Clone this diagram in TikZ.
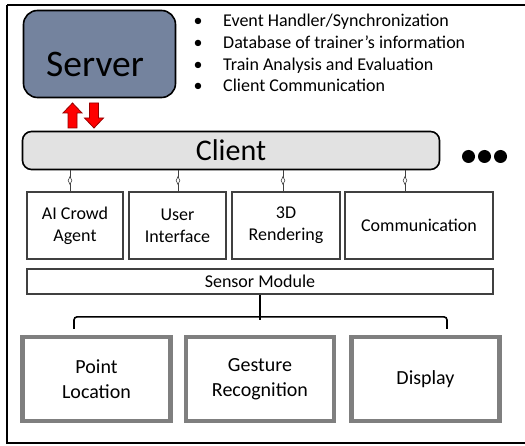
\documentclass[tikz,border=0pt]{standalone}
\usepackage{fontspec}
\setmainfont{Carlito}
\usetikzlibrary{shapes.geometric,calc}
\definecolor{serverblue}{RGB}{116,131,158}
\definecolor{clientgray}{RGB}{226,226,226}
\definecolor{modborder}{RGB}{64,64,64}
\definecolor{botborder}{RGB}{127,127,127}
\definecolor{arrowred}{RGB}{255,0,0}
\definecolor{arrowdark}{RGB}{150,0,0}
\tikzset{
  modbox/.style={draw=modborder, line width=2.6pt, fill=white, inner sep=0pt,
    align=center, font=\fontsize{18}{22}\selectfont, minimum height=67pt},
  botbox/.style={draw=botborder, line width=4.2pt, fill=white, inner sep=0pt,
    align=center, font=\fontsize{20}{24.5}\selectfont, minimum height=84pt, minimum width=148pt},
  bullettext/.style={anchor=base west, inner sep=0pt, font=\fontsize{18}{22}\selectfont},
  bulletdot/.style={anchor=base, inner sep=0pt, font=\fontsize{18}{22}\selectfont},
  linkline/.style={draw=modborder, line width=0.7pt},
  linkdiamond/.style={diamond, draw=modborder, fill=white, line width=0.6pt, inner sep=0pt,
    minimum width=4pt, minimum height=8pt, aspect=0.5},
  blockarrow/.style={fill=arrowred, draw=arrowdark, line width=0.8pt, line join=miter},
  bracket/.style={draw=black, line width=1.6pt, rounded corners=3pt},
}
\begin{document}
\begin{tikzpicture}[x=1pt,y=-1pt]
\useasboundingbox (0,0) rectangle (525,446);
% outer frame (right side lies beyond the picture)
\draw[line width=1.6pt] (7,5) -- (540,5) (7,5) -- (7,443) -- (540,443);

% server
\node[draw=black, line width=1.6pt, fill=serverblue, rounded corners=14pt,
      minimum width=152pt, minimum height=87pt, inner sep=0pt] (server) at (99.5,54) {};
\node[anchor=base, inner sep=0pt, font=\fontsize{37.5}{44}\selectfont] (servertxt) at (95,77) {Server};

% bullet list
\node[bulletdot] (d1) at (198,27) {•};
\node[bullettext] (b1) at (223,27) {Event Handler/Synchronization};
\node[bulletdot] (d2) at (198,48.7) {•};
\node[bullettext] (b2) at (223,48.7) {Database of trainer’s information};
\node[bulletdot] (d3) at (198,70.4) {•};
\node[bullettext] (b3) at (223,70.4) {Train Analysis and Evaluation};
\node[bulletdot] (d4) at (198,92) {•};
\node[bullettext] (b4) at (223,92) {Client Communication};

% client
\node[draw=black, line width=1.6pt, fill=clientgray, rounded corners=9pt,
      minimum width=417pt, minimum height=38pt, inner sep=0pt,
      font=\fontsize{30}{34}\selectfont] (client) at (231,150.5) {Client};

% red block arrows between server and client
\draw[blockarrow] (72.5,103) -- (82,113) -- (77,113) -- (77,128) -- (68,128) -- (68,113) -- (63,113) -- cycle;
\draw[blockarrow] (94,128) -- (103.5,118) -- (98.5,118) -- (98.5,103) -- (89.5,103) -- (89.5,118) -- (84.5,118) -- cycle;

% ellipsis dots
\fill (468.5,156.5) circle (6.5pt);
\fill (484.5,156.5) circle (6.5pt);
\fill (500.5,156.5) circle (6.5pt);

% module row
\node[modbox, minimum width=96pt] (ai) at (75,225.5) {AI Crowd\\Agent};
\node[modbox, minimum width=97pt] (ui) at (177.5,225.5) {User\\Interface};
\node[modbox, minimum width=108pt] (rd) at (286,225.5) {3D\\Rendering};
\node[modbox, minimum width=148pt] (cm) at (419,225.5) {Communication};

% sensor module
\node[draw=modborder, line width=2.6pt, fill=white, inner sep=0pt,
      minimum width=466pt, minimum height=25pt,
      font=\fontsize{18}{22}\selectfont] (sensor) at (260,281.5) {Sensor Module};

% links client -> modules with small diamonds
\draw[linkline] ($(ai.north)+(-5,0)$) -- node[linkdiamond] {} ($(ai.north |- client.south)+(-5,0)$);
\draw[linkline] ($(ui.north)+(0.5,0)$) -- node[linkdiamond] {} ($(ui.north |- client.south)+(0.5,0)$);
\draw[linkline] ($(rd.north)+(-3,0)$) -- node[linkdiamond] {} ($(rd.north |- client.south)+(-3,0)$);
\draw[linkline] ($(cm.north)+(-14,0)$) -- node[linkdiamond] {} ($(cm.north |- client.south)+(-14,0)$);

% bottom boxes
\node[botbox] (pl) at (96.5,379) {Point\\Location};
\node[botbox] (gr) at (260,379) {Gesture\\Recognition};
\node[botbox] (dp) at (425.5,379) {Display};

% bracket from sensor module to bottom boxes
\coordinate (bl) at ($(pl.north)+(-22.5,-6)$);
\coordinate (br) at ($(dp.north)+(21.5,-6)$);
\draw[bracket] (bl) -- ($(bl)+(0,-12)$) -- ($(br)+(0,-12)$) -- (br);
\draw[bracket] (sensor.south) -- ($(sensor.south)+(0,25)$);
\end{tikzpicture}
\end{document}
